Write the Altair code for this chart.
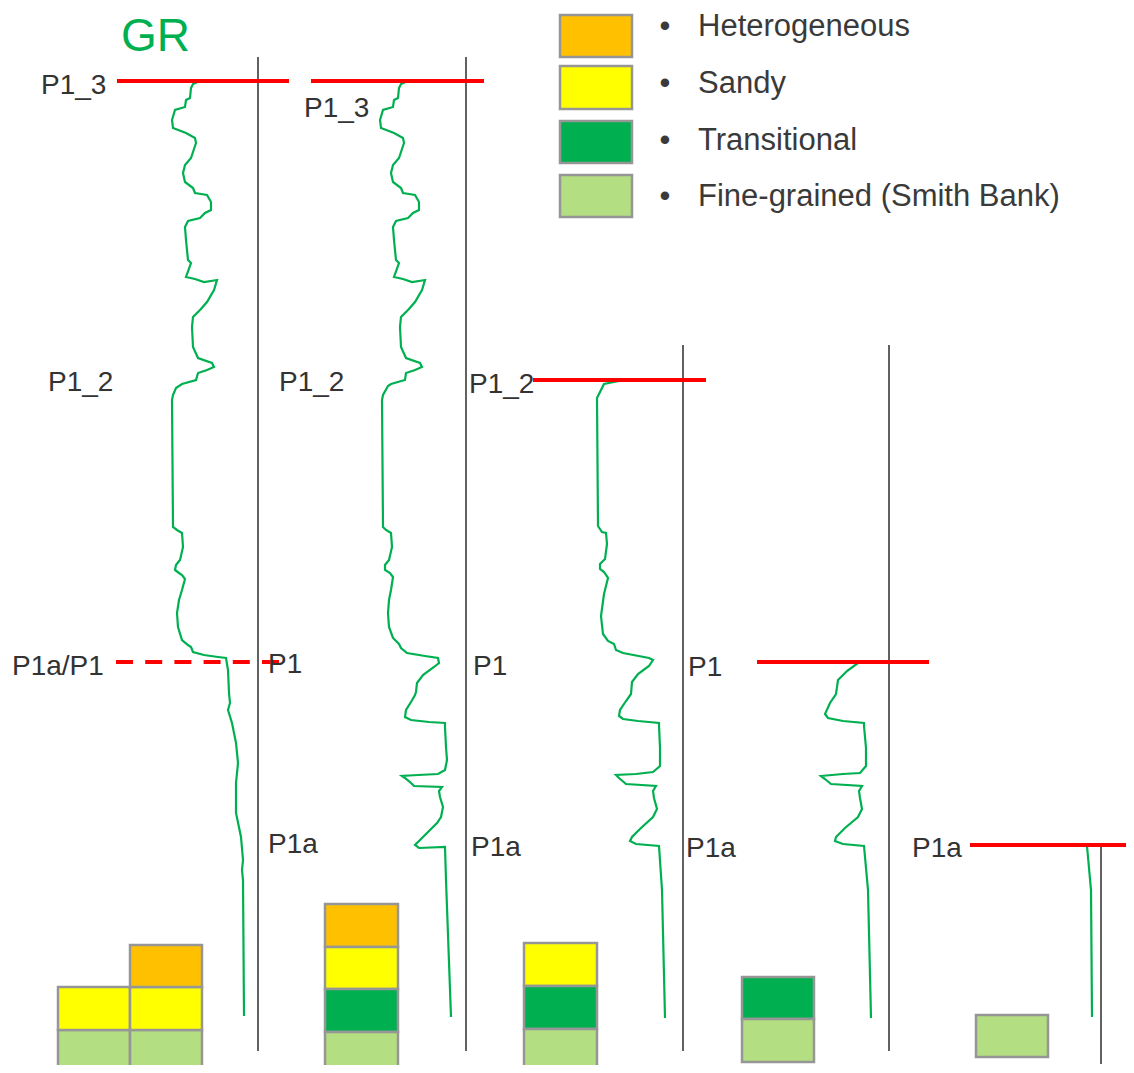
import altair as alt
import pandas as pd

# ---------------- data ----------------
# GR curves: value (horizontal position on the correlation panel) vs depth
w1_gr = [200,193,191,190,186,185,175,172,173,186,195,196,193,191,185,183,185,193,195,207,211,211,205,200,188,185,186,188,191,186,195,204,217,214,207,200,193,192,193,198,212,214,207,198,196,182,176,173,172,173,177,182,183,180,176,175,179,182,185,182,179,177,178,182,188,191,193,204,218,226,228,229,230,228,232,236,238,236,236,241,243,242,243,244]
w1_depth = [81,84,88,98,100,107,110,120,128,133,138,143,152,158,165,173,182,188,193,195,202,210,213,218,221,227,240,260,263,277,279,282,280,290,302,310,317,327,347,358,363,367,370,373,380,384,388,395,400,527,530,533,547,560,565,570,573,575,579,590,600,613,627,640,645,647,652,655,657,658,670,693,703,710,723,743,763,783,813,837,860,870,880,1016]

w2_gr = [408,401,399,398,394,393,383,380,381,394,403,404,401,399,393,391,393,401,403,415,419,419,413,408,396,393,394,396,399,394,403,412,425,422,415,408,401,400,401,406,420,422,415,406,405,391,388,383,382,383,386,391,392,389,385,385,390,393,391,389,388,389,393,399,401,407,425,438,439,434,423,417,416,415,411,406,405,411,429,445,445,446,447,445,438,418,402,405,411,414,442,439,440,443,441,437,427,418,415,419,445,446,451]
w2_depth = [81,84,88,98,100,107,110,120,128,133,138,143,152,158,165,173,182,188,193,195,202,210,213,218,221,227,240,260,263,277,279,282,280,290,302,310,317,327,347,358,363,367,370,373,380,384,386,395,400,527,530,533,547,560,565,570,573,577,590,600,613,627,638,644,648,653,656,658,663,667,675,683,692,695,702,710,717,720,722,723,727,747,760,770,774,775,776,778,783,786,787,791,797,807,817,823,833,842,845,848,847,880,1017]

w3_gr = [619,604,597,598,602,606,607,605,600,600,604,608,604,601,603,608,614,616,623,649,653,649,638,632,631,626,620,619,623,638,659,659,660,660,653,636,616,619,626,656,653,654,657,653,641,632,630,636,659,662,665]
w3_depth = [381,384,398,526,532,533,544,559,564,569,572,578,594,616,634,641,644,650,653,658,660,666,674,682,694,701,710,716,719,721,723,725,748,766,772,774,775,778,784,786,791,798,809,817,828,837,841,844,846,890,1018]

w4_gr = [858,847,838,836,830,825,828,843,864,864,866,866,860,843,821,825,831,862,859,860,862,858,845,836,835,843,864,868,871]
w4_depth = [663,671,680,694,703,714,718,721,723,726,748,766,773,774,776,779,784,786,791,798,809,817,828,837,841,844,846,890,1018]

w5_gr = [1087,1091,1092]
w5_depth = [846,890,1017]

# well tracks (vertical reference lines)
track_x = [258, 466, 683, 889, 1101]
track_top = [57, 57, 345, 345, 845]
track_bottom = [1051, 1051, 1051, 1051, 1064]

# horizon picks (solid red)
hz_x1 = [117, 311, 533, 757, 970]
hz_x2 = [289, 484, 706, 929, 1134]
hz_depth = [81, 81, 380, 662, 845]
# uncertain pick (dashed red)
dash_x1 = [116]
dash_x2 = [279]
dash_depth = [662]

# horizon labels
lab_text = ["P1_3", "P1_3", "P1_2", "P1_2", "P1_2", "P1a/P1", "P1", "P1", "P1", "P1a", "P1a", "P1a", "P1a"]
lab_x = [41, 304, 48, 279, 469, 12, 268, 473, 688, 268, 471, 686, 912]
lab_y = [94, 117, 391, 391, 393, 675, 673, 675, 676, 853, 856, 857, 857]

# facies stacks
facies = ["Heterogeneous", "Sandy", "Transitional", "Fine-grained (Smith Bank)"]
facies_colors = ["#FFC000", "#FFFF00", "#00B050", "#B3DE81"]

box_facies = ["Fine-grained (Smith Bank)", "Sandy",
              "Fine-grained (Smith Bank)", "Sandy", "Heterogeneous",
              "Heterogeneous", "Sandy", "Transitional", "Fine-grained (Smith Bank)",
              "Sandy", "Transitional", "Fine-grained (Smith Bank)",
              "Transitional", "Fine-grained (Smith Bank)",
              "Fine-grained (Smith Bank)"]
box_x1 = [58, 58, 130, 130, 130, 325, 325, 325, 325, 524, 524, 524, 742, 742, 976]
box_x2 = [130, 130, 202, 202, 202, 398, 398, 398, 398, 597, 597, 597, 814, 814, 1048]
box_top = [1030, 987, 1030, 987, 945, 904, 947, 989, 1032, 943, 986, 1029, 977, 1019, 1015]
box_bot = [1072, 1030, 1072, 1030, 987, 947, 989, 1032, 1072, 986, 1029, 1071, 1019, 1062, 1057]

# legend
leg_x1 = [560, 560, 560, 560]
leg_x2 = [632, 632, 632, 632]
leg_top = [15, 66, 121, 175]
leg_bot = [57, 109, 163, 217]
leg_bullet_x = [665, 665, 665, 665]
leg_text_x = [698, 698, 698, 698]
leg_base = [36, 93, 150, 206]

# ---------------- build tables ----------------
rows = []
for name, g, d in [("W1", w1_gr, w1_depth), ("W2", w2_gr, w2_depth), ("W3", w3_gr, w3_depth),
                   ("W4", w4_gr, w4_depth), ("W5", w5_gr, w5_depth)]:
    for i, (a, b) in enumerate(zip(g, d)):
        rows.append({"well": name, "i": i, "x": a, "y": b})
curves = pd.DataFrame(rows)

tracks = pd.DataFrame({"x": track_x, "y": track_top, "y2": track_bottom})
hz = pd.DataFrame({"x": hz_x1, "x2": hz_x2, "y": hz_depth})
hzd = pd.DataFrame({"x": dash_x1, "x2": dash_x2, "y": dash_depth})
labels = pd.DataFrame({"t": lab_text, "x": lab_x, "y": lab_y})
boxes = pd.DataFrame({"f": box_facies, "x": box_x1, "x2": box_x2, "y": box_top, "y2": box_bot})
legend_boxes = pd.DataFrame({"f": facies, "x": leg_x1, "x2": leg_x2, "y": leg_top, "y2": leg_bot})
legend_text = pd.DataFrame({"f": facies, "x": leg_text_x, "bx": leg_bullet_x, "y": leg_base})
title = pd.DataFrame({"t": ["GR"], "x": [121], "y": [51]})

xs = alt.Scale(domain=[8, 1126], nice=False, zero=False)
ys = alt.Scale(domain=[8, 1065], nice=False, zero=False, reverse=True)
X = lambda f: alt.X(f, type="quantitative", scale=xs, axis=None)
Y = lambda f: alt.Y(f, type="quantitative", scale=ys, axis=None)
col = alt.Color("f:N", scale=alt.Scale(domain=facies, range=facies_colors), legend=None)
FONT = "Liberation Sans, Arial, Helvetica, sans-serif"

rect_layer = alt.Chart(boxes).mark_rect(stroke="#969696", strokeWidth=2.5).encode(
    x=X("x"), x2="x2", y=Y("y"), y2="y2", color=col)
leg_rect = alt.Chart(legend_boxes).mark_rect(stroke="#969696", strokeWidth=2.5).encode(
    x=X("x"), x2="x2", y=Y("y"), y2="y2", color=col)
track_layer = alt.Chart(tracks).mark_rule(color="#3a3a3a", strokeWidth=1.6).encode(
    x=X("x"), y=Y("y"), y2="y2")
curve_layer = alt.Chart(curves).mark_line(color="#00B050", strokeWidth=2.2).encode(
    x=X("x"), y=Y("y"), detail="well:N", order="i:Q")
hz_layer = alt.Chart(hz).mark_rule(color="#FF0000", strokeWidth=4).encode(
    x=X("x"), x2="x2", y=Y("y"))
hzd_layer = alt.Chart(hzd).mark_rule(color="#FF0000", strokeWidth=4, strokeDash=[17, 12.2]).encode(
    x=X("x"), x2="x2", y=Y("y"))
label_layer = alt.Chart(labels).mark_text(align="left", baseline="alphabetic", font=FONT,
                                          fontSize=28, color="#333333").encode(
    x=X("x"), y=Y("y"), text="t:N")
leg_text_layer = alt.Chart(legend_text).mark_text(align="left", baseline="alphabetic", font=FONT,
                                                  fontSize=31, color="#3a3a3a").encode(
    x=X("x"), y=Y("y"), text="f:N")
bullet_layer = alt.Chart(legend_text).mark_text(align="center", baseline="alphabetic", font=FONT,
                                                fontSize=31, color="#3a3a3a", text="\u2022").encode(
    x=X("bx"), y=Y("y"))
title_layer = alt.Chart(title).mark_text(align="left", baseline="alphabetic", font=FONT,
                                         fontSize=46, color="#00B050").encode(
    x=X("x"), y=Y("y"), text="t:N")

chart = alt.layer(
    rect_layer, leg_rect, track_layer, curve_layer, hz_layer, hzd_layer,
    label_layer, leg_text_layer, bullet_layer, title_layer
).properties(
    width=1118, height=1057, padding=0,
    autosize=alt.AutoSizeParams(type="none")
).configure_view(stroke=None)

chart.save("out.html", embed_options={"renderer": "svg", "actions": False})
